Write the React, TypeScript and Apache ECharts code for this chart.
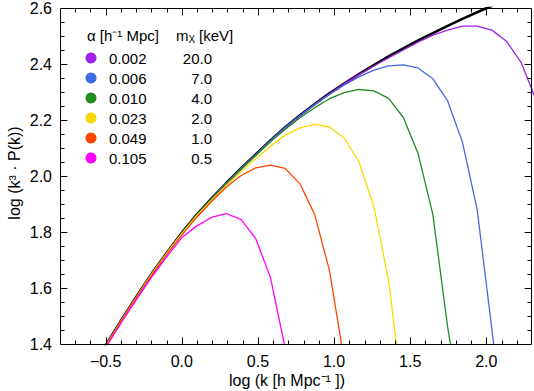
import React, { useEffect, useRef } from 'react';
import * as echarts from 'echarts';

// log k grid (h/Mpc)
const kGrid = [-0.582, -0.485, -0.388, -0.291, -0.194, -0.097, 0.0, 0.097, 0.194, 0.291, 0.388, 0.485, 0.582, 0.679, 0.776, 0.873, 0.970, 1.067, 1.164, 1.261, 1.358, 1.455, 1.552, 1.649, 1.746, 1.843, 1.940, 2.037, 2.134, 2.231, 2.328, 2.425];

// CDM reference (black)
const cdm = [1.323, 1.408, 1.493, 1.575, 1.654, 1.727, 1.797, 1.861, 1.919, 1.974, 2.027, 2.077, 2.127, 2.174, 2.217, 2.257, 2.295, 2.330, 2.364, 2.396, 2.427, 2.456, 2.484, 2.510, 2.536, 2.561, 2.585, 2.608, 2.630];

// WDM spectra
const wdm002 = [1.322, 1.407, 1.492, 1.574, 1.653, 1.726, 1.796, 1.860, 1.918, 1.973, 2.026, 2.076, 2.126, 2.173, 2.216, 2.256, 2.294, 2.329, 2.362, 2.393, 2.422, 2.450, 2.478, 2.503, 2.521, 2.535, 2.535, 2.521, 2.480, 2.403, 2.270, 2.050];
const wdm006 = [1.322, 1.407, 1.492, 1.574, 1.653, 1.726, 1.796, 1.860, 1.918, 1.973, 2.026, 2.076, 2.126, 2.173, 2.215, 2.255, 2.292, 2.325, 2.354, 2.378, 2.393, 2.397, 2.386, 2.347, 2.268, 2.121, 1.880, 1.450, 1.010];
const wdm010 = [1.322, 1.407, 1.492, 1.574, 1.653, 1.726, 1.796, 1.860, 1.917, 1.972, 2.024, 2.073, 2.122, 2.167, 2.208, 2.244, 2.276, 2.298, 2.309, 2.304, 2.277, 2.209, 2.080, 1.862, 1.460, 1.140];
const wdm023 = [1.322, 1.407, 1.492, 1.574, 1.653, 1.725, 1.794, 1.857, 1.913, 1.966, 2.015, 2.062, 2.106, 2.146, 2.172, 2.184, 2.175, 2.135, 2.050, 1.892, 1.627, 1.200];
const wdm049 = [1.321, 1.406, 1.491, 1.572, 1.650, 1.721, 1.789, 1.852, 1.908, 1.960, 2.001, 2.029, 2.039, 2.027, 1.972, 1.862, 1.662, 1.340];
const wdm105 = [1.318, 1.400, 1.484, 1.565, 1.642, 1.713, 1.780, 1.821, 1.852, 1.866, 1.845, 1.777, 1.638, 1.385];

const alphaLabels = ['0.002', '0.006', '0.010', '0.023', '0.049', '0.105'];
const massLabels = ['20.0', '7.0', '4.0', '2.0', '1.0', '0.5'];
const lineColors = ['#A020F0', '#4169E1', '#228B22', '#FFD700', '#FF4500', '#FF00FF'];
const wdmSeries = [wdm002, wdm006, wdm010, wdm023, wdm049, wdm105];

// axis ranges and ticks
const X_MIN = -0.8, X_MAX = 2.3, Y_MIN = 1.4, Y_MAX = 2.6;
const xTickValues = [-0.5, 0.0, 0.5, 1.0, 1.5, 2.0];
const xMinorTicks = [-0.7, -0.6, -0.4, -0.3, -0.2, -0.1, 0.1, 0.2, 0.3, 0.4, 0.6, 0.7, 0.8, 0.9, 1.1, 1.2, 1.3, 1.4, 1.6, 1.7, 1.8, 1.9, 2.1, 2.2];
const yTickValues = [1.6, 1.8, 2.0, 2.2, 2.4];
const yMinorTicks = [1.45, 1.5, 1.55, 1.65, 1.7, 1.75, 1.85, 1.9, 1.95, 2.05, 2.1, 2.15, 2.25, 2.3, 2.35, 2.45, 2.5, 2.55];

const FONT = '"Liberation Sans", Arial, Helvetica, sans-serif';

const toPairs = (vals: number[]) => vals.map((v, i) => [kGrid[i], v]);
const fmtX = (v: number) => (v < 0 ? '\u2212' + Math.abs(v).toFixed(1) : v.toFixed(1));

export default function App() {
  const ref = useRef<HTMLDivElement>(null);
  useEffect(() => {
    document.body.style.margin = '0';
    const chart = echarts.init(ref.current!, null, { renderer: 'svg' });

    const rowY = [58, 78, 98, 118, 138, 158];
    const legend: any[] = [];
    alphaLabels.forEach((a, i) => {
      legend.push({ type: 'circle', shape: { cx: 91, cy: rowY[i], r: 5.5 }, style: { fill: lineColors[i] } });
      legend.push({ type: 'text', x: 109, y: rowY[i], style: { text: a, font: `15px ${FONT}`, fill: '#000', textAlign: 'left', textVerticalAlign: 'middle' } });
      legend.push({ type: 'text', x: 212, y: rowY[i], style: { text: massLabels[i], font: `15px ${FONT}`, fill: '#000', textAlign: 'right', textVerticalAlign: 'middle' } });
    });
    legend.push({ type: 'text', x: 87, y: 35, style: { text: 'α [h⁻¹ Mpc]', font: `15px ${FONT}`, fill: '#000', textAlign: 'left', textVerticalAlign: 'middle' } });
    legend.push({ type: 'text', x: 176, y: 35, style: { text: 'm', font: `15px ${FONT}`, fill: '#000', textAlign: 'left', textVerticalAlign: 'middle' } });
    legend.push({ type: 'text', x: 188.5, y: 39, style: { text: 'X', font: `10px ${FONT}`, fill: '#000', textAlign: 'left', textVerticalAlign: 'middle' } });
    legend.push({ type: 'text', x: 199, y: 35, style: { text: '[keV]', font: `15px ${FONT}`, fill: '#000', textAlign: 'left', textVerticalAlign: 'middle' } });
    legend.push({ type: 'text', x: 287, y: 380, style: { text: 'log (k [h Mpc⁻¹ ])', font: `16px ${FONT}`, fill: '#000', textAlign: 'center', textVerticalAlign: 'middle' } });
    legend.push({ type: 'text', x: 14, y: 173, rotation: Math.PI / 2, style: { text: 'log (k³ · P(k))', font: `16px ${FONT}`, fill: '#000', textAlign: 'center', textVerticalAlign: 'middle' } });

    // frame + inward ticks, placed through the cartesian scales
    const frameSeries = {
      type: 'custom', name: 'frame', coordinateSystem: 'cartesian2d', xAxisIndex: 0, yAxisIndex: 0,
      data: [[0, 2]], clip: false, silent: true, z: 20,
      renderItem: (_params: any, api: any) => {
        const p0 = api.coord([X_MIN, Y_MAX]);
        const p1 = api.coord([X_MAX, Y_MIN]);
        const L = Math.round(p0[0]) + 0.5;
        const T = Math.round(p0[1]) + 0.5;
        const R = Math.round(p1[0]) - 0.5;
        const B = Math.round(p1[1]) + 0.5;
        const st = { stroke: '#000', lineWidth: 1 };
        const ch: any[] = [
          { type: 'rect', shape: { x: L, y: T, width: R - L, height: B - T }, style: { fill: 'none', stroke: '#000', lineWidth: 1 } },
        ];
        const xTick = (v: number, len: number) => {
          const px = Math.round(api.coord([v, Y_MIN])[0]) + 0.5;
          ch.push({ type: 'line', shape: { x1: px, y1: B, x2: px, y2: B - len }, style: st });
          ch.push({ type: 'line', shape: { x1: px, y1: T, x2: px, y2: T + len }, style: st });
        };
        const yTick = (v: number, len: number) => {
          const py = Math.round(api.coord([X_MIN, v])[1]) + 0.5;
          ch.push({ type: 'line', shape: { x1: L, y1: py, x2: L + len, y2: py }, style: st });
          ch.push({ type: 'line', shape: { x1: R, y1: py, x2: R - len, y2: py }, style: st });
        };
        xTickValues.forEach(v => xTick(v, 7));
        xMinorTicks.forEach(v => xTick(v, 4));
        yTickValues.forEach(v => yTick(v, 7));
        yMinorTicks.forEach(v => yTick(v, 4));
        return { type: 'group', children: ch };
      },
    };

    const series: any[] = [
      {
        type: 'line', name: 'CDM', xAxisIndex: 0, yAxisIndex: 0, data: toPairs(cdm),
        showSymbol: false, symbol: 'none', clip: true,
        lineStyle: { color: '#000', width: 2.6 }, z: 2,
      },
      ...wdmSeries.map((vals, i) => ({
        type: 'line', name: alphaLabels[i], xAxisIndex: 0, yAxisIndex: 0, data: toPairs(vals),
        showSymbol: false, symbol: 'none', clip: true,
        lineStyle: { color: lineColors[i], width: 1.3 }, z: 3 + i,
      })),
      frameSeries,
    ];

    chart.setOption({
      animation: false,
      grid: { left: 60, right: 2, top: 4, bottom: 47 },
      xAxis: [{
        type: 'value', min: X_MIN, max: X_MAX, position: 'bottom',
        axisLine: { show: false, onZero: false },
        axisTick: { show: false },
        axisLabel: { show: true, customValues: xTickValues, formatter: (v: number) => fmtX(v), fontSize: 16, color: '#000', margin: 9, fontFamily: FONT },
        splitLine: { show: false },
      }],
      yAxis: [{
        type: 'value', min: Y_MIN, max: Y_MAX, interval: 0.2, position: 'left',
        axisLine: { show: false, onZero: false },
        axisTick: { show: false },
        axisLabel: { show: true, formatter: (v: number) => v.toFixed(1), fontSize: 16, color: '#000', margin: 8, fontFamily: FONT },
        splitLine: { show: false },
      }],
      series,
      graphic: legend,
    } as any);
    return () => chart.dispose();
  }, []);
  return <div ref={ref} style={{ width: 534, height: 391 }} />;
}
